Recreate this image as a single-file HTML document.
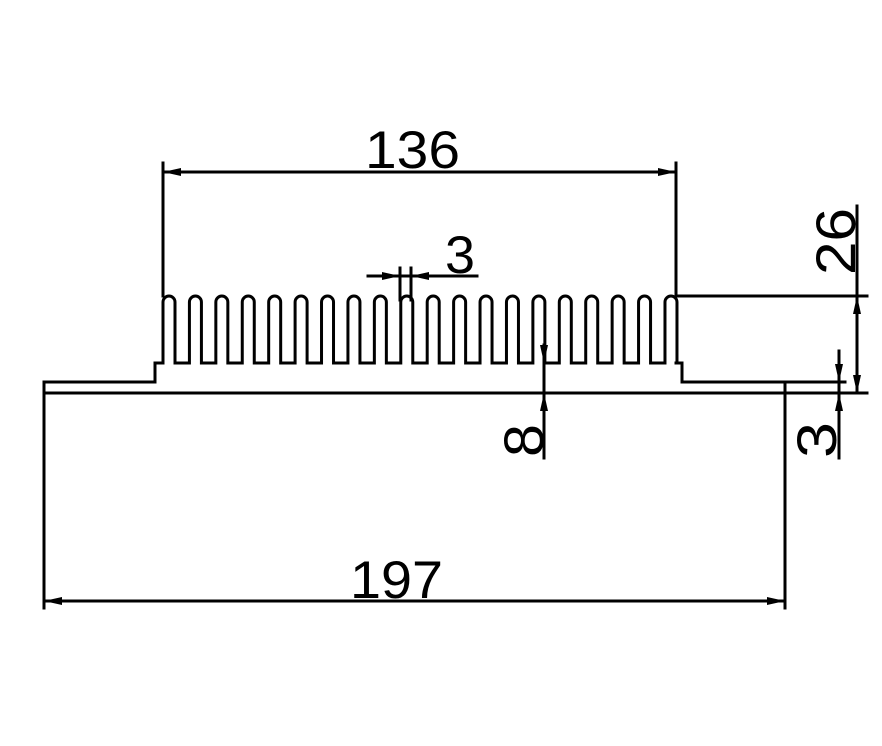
<!DOCTYPE html>
<html><head><meta charset="utf-8"><style>
html,body{margin:0;padding:0;background:#fff;}
svg{display:block;}
text{font-family:"Liberation Sans",sans-serif;fill:#000;}
</style></head><body>
<svg id="s" width="882" height="746" viewBox="0 0 882 746" xmlns="http://www.w3.org/2000/svg">
<g stroke="#000" stroke-width="3" fill="none" stroke-linecap="square">
<path id="fins" d=""/>
<!-- base steps -->
<polyline points="163,363 155,363 155,382 44,382 44,608"/>
<polyline points="676,363 682,363 682,382 845,382"/>
<line x1="44" y1="393" x2="867" y2="393"/>
<line x1="785" y1="382" x2="785" y2="608"/>
<!-- 136 -->
<line x1="163" y1="163" x2="163" y2="296"/>
<line x1="676" y1="163" x2="676" y2="296"/>
<line x1="163" y1="172" x2="676" y2="172"/>
<!-- 197 -->
<line x1="44" y1="601" x2="785" y2="601"/>
<!-- 3 fin -->
<line x1="400" y1="268" x2="400" y2="300"/>
<line x1="411" y1="268" x2="411" y2="300"/>
<line x1="368" y1="276" x2="477" y2="276"/>
<!-- 26 -->
<line x1="676" y1="296" x2="867" y2="296"/>
<line x1="857" y1="206" x2="857" y2="393"/>
<!-- 3 right -->
<line x1="839" y1="351" x2="839" y2="458"/>
<!-- 8 -->
<line x1="544" y1="345" x2="544" y2="458"/>
</g>
<g fill="#000">
<polygon points="163,172 181,168 181,176"/>
<polygon points="676,172 658,168 658,176"/>
<polygon points="44,601 62,597 62,605"/>
<polygon points="785,601 767,597 767,605"/>
<polygon points="400,276 382,272 382,280"/>
<polygon points="411,276 429,272 429,280"/>
<polygon points="857,296 853,314 861,314"/>
<polygon points="857,393 853,375 861,375"/>
<polygon points="839,382 835,364 843,364"/>
<polygon points="839,393 835,411 843,411"/>
<polygon points="544,363 540,345 548,345"/>
<polygon points="544,393 540,411 548,411"/>
</g>
<text x="365" y="168" font-size="53" textLength="95" lengthAdjust="spacingAndGlyphs">136</text>
<text x="350" y="598" font-size="53" textLength="93" lengthAdjust="spacingAndGlyphs">197</text>
<text x="445" y="273" font-size="53" textLength="30" lengthAdjust="spacingAndGlyphs">3</text>
<text transform="translate(855,275) rotate(-90)" font-size="56" textLength="67" lengthAdjust="spacingAndGlyphs">26</text>
<text transform="translate(836,458) rotate(-90)" font-size="56" textLength="36" lengthAdjust="spacingAndGlyphs">3</text>
<text transform="translate(543,457) rotate(-90)" font-size="56" textLength="33" lengthAdjust="spacingAndGlyphs">8</text>
</svg>
<script>
(function(){
var p=26.42,w=12,top=296,bot=363,r=6,d="";
for(var k=0;k<20;k++){
 var x=163+k*p;
 if(k===0) d+="M"+x+","+bot; else d+=" L"+x+","+bot;
 d+=" L"+x+","+(top+r)+" A"+r+","+r+" 0 0 1 "+(x+w)+","+(top+r)+" L"+(x+w)+","+bot;
}
document.getElementById("fins").setAttribute("d",d);
})();
</script>
</body></html>
